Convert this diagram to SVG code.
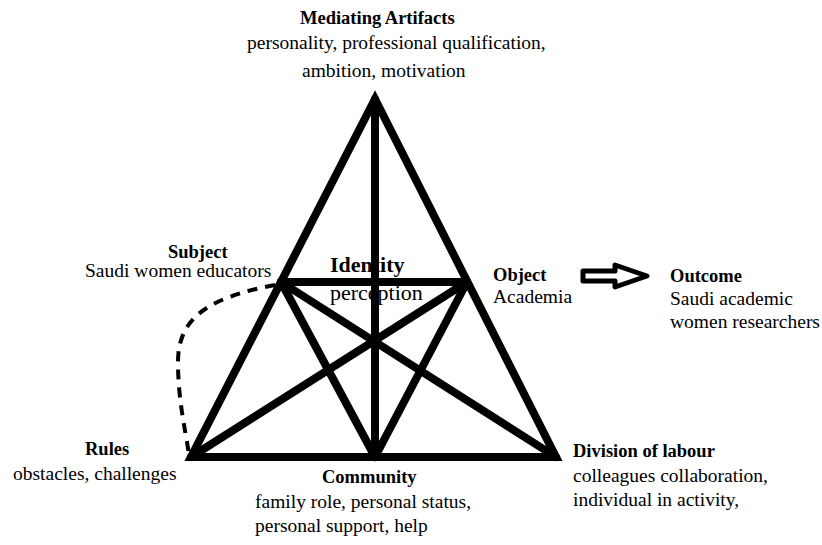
<svg xmlns="http://www.w3.org/2000/svg" width="822" height="545" viewBox="0 0 822 545">
<style>
text{font-family:"Liberation Serif","Times New Roman",serif;fill:#000}
.b{font-weight:bold;font-size:18.5px}
.r{font-size:19.5px}
.big{font-size:22px}
.ln{stroke:#000;stroke-width:8;fill:none;stroke-linecap:round}
</style>
<rect width="822" height="545" fill="#fff"/>
<g id="connectors">
<polygon class="ln" points="375,99 191,457 556,457" stroke-linejoin="miter"/>
<line class="ln" x1="375" y1="99" x2="375" y2="457"/>
<line class="ln" x1="281" y1="282" x2="467" y2="282"/>
<line class="ln" x1="281" y1="282" x2="375" y2="457"/>
<line class="ln" x1="467" y1="282" x2="375" y2="457"/>
<line class="ln" x1="281" y1="282" x2="556" y2="457"/>
<line class="ln" x1="467" y1="282" x2="191" y2="457"/>
<path d="M275 285 C205 298 178 320 178 362 C178 402 186 432 189 455" fill="none" stroke="#000" stroke-width="4" stroke-dasharray="10 8"/>
<polygon points="583,271 615,271 615,265 647,276 615,287 615,281 583,281" fill="#fff" stroke="#000" stroke-width="5" stroke-linejoin="round"/>
</g>
<g id="mediating">
<text class="b" x="300" y="24">Mediating Artifacts</text>
<text class="r" x="247" y="49">personality, professional qualification,</text>
<text class="r" x="302" y="77">ambition, motivation</text>
</g>
<g id="subject">
<text class="b" x="168" y="258">Subject</text>
<text class="r" x="85" y="277">Saudi women educators</text>
</g>
<g id="identity">
<text class="big" font-weight="bold" x="330" y="272">Identity</text>
<text class="big" x="330" y="300">perception</text>
</g>
<g id="object">
<text class="b" x="493" y="281">Object</text>
<text class="r" x="493" y="303">Academia</text>
</g>
<g id="outcome">
<text class="b" x="670" y="282">Outcome</text>
<text class="r" x="670" y="305">Saudi academic</text>
<text class="r" x="670" y="328">women researchers</text>
</g>
<g id="rules">
<text class="b" x="85" y="455">Rules</text>
<text class="r" x="13" y="480">obstacles, challenges</text>
</g>
<g id="community">
<text class="b" x="322" y="483">Community</text>
<text class="r" x="255" y="508">family role, personal status,</text>
<text class="r" x="255" y="532">personal support, help</text>
</g>
<g id="division">
<text class="b" x="573" y="457">Division of labour</text>
<text class="r" x="573" y="482">colleagues collaboration,</text>
<text class="r" x="573" y="506">individual in activity,</text>
</g>
</svg>
